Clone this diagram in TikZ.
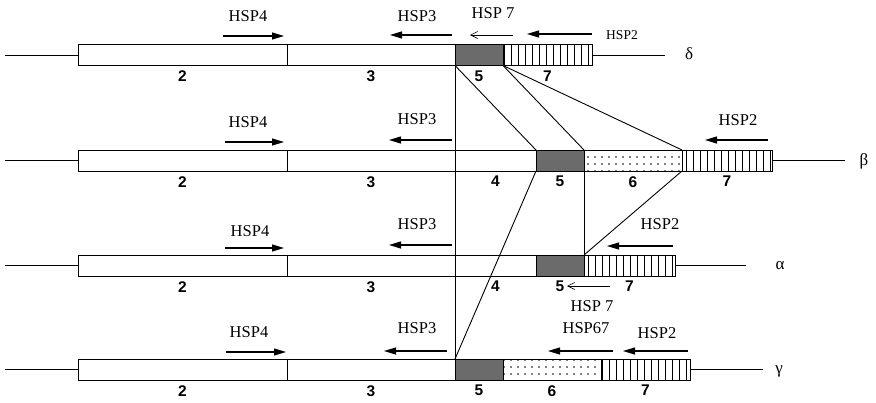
\documentclass[tikz,border=0pt]{standalone}
\usepackage{fontspec}
\setmainfont{Liberation Serif}
\newfontfamily\numfont{Liberation Sans}
\usetikzlibrary{arrows.meta,positioning,patterns.meta}

\begin{document}
\begin{tikzpicture}[
  x=1pt, y=-1pt,
  exon/.style={draw, line width=0.9pt, minimum height=21pt, inner sep=0pt, outer sep=0pt},
  exfive/.style={exon, fill=black!58},
  exsix/.style={exon, pattern={Dots[distance=7pt, radius=0.9pt]}},
  exseven/.style={exon, pattern={Lines[angle=90, distance=7pt, line width=0.9pt]}},
  num/.style={font=\numfont\bfseries\fontsize{15.5}{16}\selectfont, inner sep=0pt},
  hsp/.style={font=\fontsize{16.5}{17}\selectfont, inner sep=0pt},
  gene/.style={font=\fontsize{17}{17}\selectfont, inner sep=0pt},
  primer/.style={-{Triangle[length=12pt, width=7pt]}, line width=1.1pt},
  nested/.style={-{Straight Barb[length=7pt, width=7pt]}, line width=0.6pt},
  intron/.style={line width=0.8pt},
  link/.style={line width=0.9pt}
]
\useasboundingbox (0,0) rectangle (876,402);

% delta
\node[exon, minimum width=209pt, anchor=west] (d2) at (78,55) {};
\node[exon, minimum width=168pt, right=0pt of d2] (d3) {};
\node[exfive, minimum width=48pt, right=0pt of d3] (d5) {};
\node[exseven, minimum width=89pt, right=0pt of d5] (d7) {};
\draw[intron] (d2.west) -- ++(-73,0);
\draw[intron] (d7.east) -- ++(73,0);
\node[num, below=5pt of d2] (d2l) {2};
\node[num, below=5pt of d3] (d3l) {3};
\node[num, below=5pt of d5] (d5l) {5};
\node[num, below=5pt of d7] (d7l) {7};
\node[gene] (delta) at (689,54) {δ};

% beta
\node[exon, minimum width=209pt, anchor=west] (b2) at (78,160.5) {};
\node[exon, minimum width=168pt, right=0pt of b2] (b3) {};
\node[exon, minimum width=81pt, right=0pt of b3] (b4) {};
\node[exfive, minimum width=48pt, right=0pt of b4] (b5) {};
\node[exsix, minimum width=98pt, right=0pt of b5] (b6) {};
\node[exseven, minimum width=90pt, right=0pt of b6] (b7) {};
\draw[intron] (b2.west) -- ++(-73,0);
\draw[intron] (b7.east) -- ++(73,0);
\node[num, below=5pt of b2] (b2l) {2};
\node[num, below=5pt of b3] (b3l) {3};
\node[num, below=5pt of b4] (b4l) {4};
\node[num, below=5pt of b5] (b5l) {5};
\node[num, below=5pt of b6] (b6l) {6};
\node[num, below=5pt of b7] (b7l) {7};
\node[gene] (beta) at (864,161) {β};

% alpha
\node[exon, minimum width=209pt, anchor=west] (a2) at (78,265.5) {};
\node[exon, minimum width=168pt, right=0pt of a2] (a3) {};
\node[exon, minimum width=81pt, right=0pt of a3] (a4) {};
\node[exfive, minimum width=48pt, right=0pt of a4] (a5) {};
\node[exseven, minimum width=91pt, right=0pt of a5] (a7) {};
\draw[intron] (a2.west) -- ++(-73,0);
\draw[intron] (a7.east) -- ++(71,0);
\node[num, below=5pt of a2] (a2l) {2};
\node[num, below=5pt of a3] (a3l) {3};
\node[num, below=5pt of a4] (a4l) {4};
\node[num, below=5pt of a5] (a5l) {5};
\node[num, below=5pt of a7] (a7l) {7};
\node[gene] (alpha) at (780,266) {α};

% gamma
\node[exon, minimum width=209pt, anchor=west] (g2) at (78,369.5) {};
\node[exon, minimum width=168pt, right=0pt of g2] (g3) {};
\node[exfive, minimum width=48pt, right=0pt of g3] (g5) {};
\node[exsix, minimum width=98pt, right=0pt of g5] (g6) {};
\node[exseven, minimum width=89pt, right=0pt of g6] (g7) {};
\draw[intron] (g2.west) -- ++(-73,0);
\draw[intron] (g7.east) -- ++(73,0);
\node[num, below=5pt of g2] (g2l) {2};
\node[num, below=5pt of g3] (g3l) {3};
\node[num, below=5pt of g5] (g5l) {5};
\node[num, below=5pt of g6] (g6l) {6};
\node[num, below=5pt of g7] (g7l) {7};
\node[gene] (gamma) at (779,371) {γ};

% exon correspondences
\draw[link] (d3.south east) -- (g5.north west);
\draw[link] (d5.south west) -- (b5.north west);
\draw[link] (d5.south east) -- (b5.north east);
\draw[link] (d7.south west) -- (b7.north west);
\draw[link] (b5.south west) -- (g5.north west);
\draw[link] (b5.south east) -- (a5.north east);
\draw[link] (b7.south west) -- (a7.north west);

% primers
\node[hsp] (d4p) at (248,16) {HSP4};
\node[hsp] (d3p) at (417,16) {HSP3};
\node[hsp] (d7p) at (493,13) {HSP 7};
\node[hsp, font=\fontsize{13.5}{14}\selectfont] (d2p) at (622,35) {HSP2};
\draw[primer] (223,36) -- (284,36);
\draw[primer] (452,35) -- (390,35);
\draw[nested] (513,35) -- (470,35);
\draw[primer] (592,34) -- (527,34);

\node[hsp] (b4p) at (248,122) {HSP4};
\node[hsp] (b3p) at (417,119) {HSP3};
\node[hsp] (b2p) at (738,120) {HSP2};
\draw[primer] (225,142) -- (284,142);
\draw[primer] (452,140) -- (389,140);
\draw[primer] (768,140) -- (705,140);

\node[hsp] (a4p) at (250,231) {HSP4};
\node[hsp] (a3p) at (417,224) {HSP3};
\node[hsp] (a2p) at (660,224) {HSP2};
\node[hsp] (a7p) at (592,306) {HSP 7};
\draw[primer] (225,248) -- (284,248);
\draw[primer] (452,245) -- (389,245);
\draw[primer] (673,246) -- (607,246);
\draw[nested] (610,286) -- (567,286);

\node[hsp] (g4p) at (249,332) {HSP4};
\node[hsp] (g3p) at (417,328) {HSP3};
\node[hsp] (g67p) at (586,328) {HSP67};
\node[hsp] (g2p) at (657,333) {HSP2};
\draw[primer] (226,352) -- (286,352);
\draw[primer] (447,351) -- (384,351);
\draw[primer] (613,351) -- (548,351);
\draw[primer] (688,351) -- (623,351);

\end{tikzpicture}
\end{document}
